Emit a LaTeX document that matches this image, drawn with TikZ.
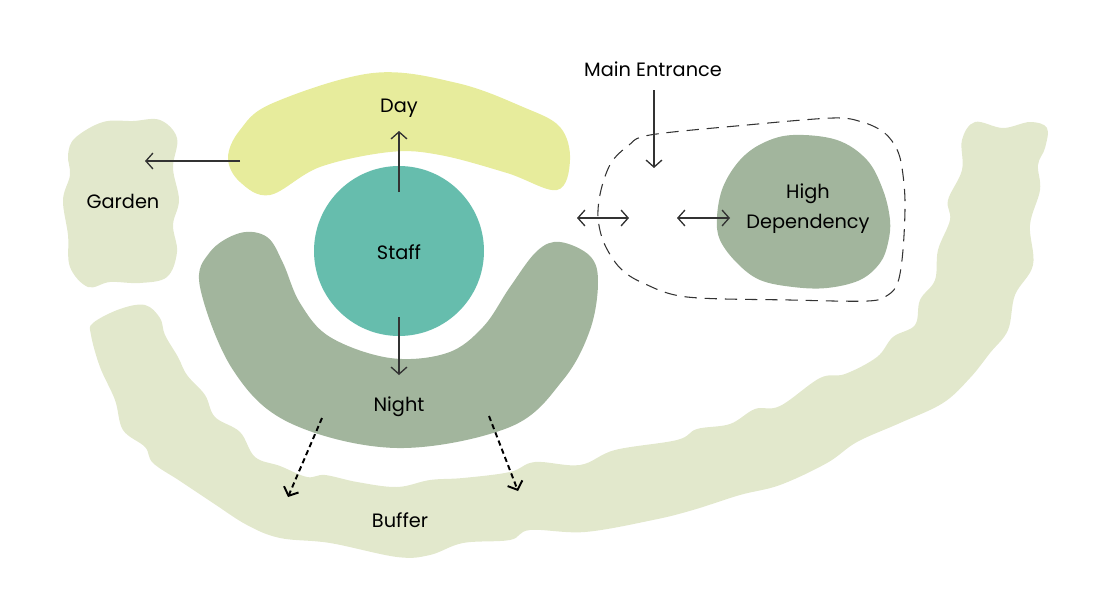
\documentclass[tikz,border=0pt]{standalone}
\usepackage{fontspec}
\setmainfont{Poppins}
\usetikzlibrary{arrows.meta}
\definecolor{dayc}{HTML}{E7EC9C}
\definecolor{staffc}{HTML}{66BDAD}
\definecolor{sage}{HTML}{A2B59D}
\definecolor{bufc}{HTML}{E2E8CC}
\definecolor{ink}{HTML}{333333}
\tikzset{
  lbl/.style={font=\fontsize{11}{17}\selectfont, text=black, inner sep=0pt, align=center},
  conn/.style={draw=ink, line width=0.75pt, -{Straight Barb[length=4pt,width=9pt,line width=0.75pt]}},
  dconn/.style={conn, {Straight Barb[length=4pt,width=9pt,line width=0.75pt]}-{Straight Barb[length=4pt,width=9pt,line width=0.75pt]}},
  dashconn/.style={draw=black, line width=1.1pt, dash pattern=on 3pt off 2pt, -{Straight Barb[length=4pt,width=9pt,line width=1.1pt]}},
  zone/.style={draw=ink, line width=0.6pt, dash pattern=on 7pt off 4.5pt},
}
\begin{document}
\begin{tikzpicture}[x=0.02cm, y=-0.02cm]
\useasboundingbox (0,0) rectangle (1100,612);
% Garden
\fill[bufc] plot[smooth cycle, tension=0.6] coordinates {(75,138) (103,122) (133,121) (160,120) (177,138) (173,168) (179,200) (173,225) (177,252) (167,277) (140,283) (110,282) (88,287) (70,267) (68,235) (63,200) (70,175) (68,155)};
% Buffer
\fill[bufc] plot[smooth cycle, tension=0.6] coordinates {(93,323) (120,309) (145,305) (160,318) (165,335) (178,357) (187,375) (205,395) (215,417) (240,432) (255,457) (280,466) (307,477) (325,475) (357,482) (397,487) (430,480) (463,478) (510,472) (535,462) (580,465) (615,450) (677,440) (697,429) (730,424) (755,409) (780,406) (820,378) (845,374) (877,357) (893,337) (915,325) (920,300) (935,280) (938,250) (950,220) (948,200) (962,170) (962,140) (975,122) (1003,128) (1030,122) (1047,128) (1045,148) (1038,165) (1040,190) (1030,225) (1033,265) (1015,295) (1008,330) (990,353) (970,378) (943,403) (900,423) (857,442) (827,463) (780,485) (740,495) (693,510) (653,520) (585,532) (530,530) (510,540) (463,543) (430,555) (397,557) (330,543) (280,538) (247,525) (213,503) (180,481) (153,463) (145,447) (123,430) (115,400) (100,367) (91,335)};
% Day
\fill[dayc] plot[smooth cycle, tension=0.6] coordinates {(240,130) (273,103) (373,73) (457,83) (523,107) (560,127) (570,160) (557,190) (507,173) (440,155) (390,152) (320,167) (270,195) (240,182) (228,158)};
% Night
\fill[sage] plot[smooth cycle, tension=0.6] coordinates {(210,252) (240,233) (267,237) (283,263) (300,303) (330,337) (390,358) (447,353) (483,327) (510,287) (537,251) (560,242) (590,256) (598,282) (590,330) (563,380) (510,427) (397,448) (290,423) (233,370) (200,287)};
% Staff
\fill[staffc] (399,251) circle [radius=85];
% High dependency
\fill[sage] plot[smooth cycle, tension=0.6] coordinates {(793,135) (837,140) (867,160) (883,190) (890,220) (888,243) (880,263) (860,280) (827,288) (793,287) (760,280) (737,263) (720,240) (717,217) (723,187) (740,160) (763,143)};
% Zone outline
\draw[zone] plot[smooth cycle, tension=0.55] coordinates {(650,135) (747,125) (833,118) (862,122) (882,131) (894,144) (901,162) (905,200) (903,250) (898,282) (888,295) (868,301) (790,300) (687,297) (643,283) (620,268) (604,243) (598,217) (601,190) (611,163) (628,146)};

% Labels
\node[lbl] (day) at (399,108) {Day};
\node[lbl] (staff) at (399,252) {Staff};
\node[lbl] (night) at (399,407) {Night};
\node[lbl] (garden) at (123,201) {Garden};
\node[lbl] (hd) at (808,209) {High\\Dependency};
\node[lbl] (buffer) at (400,520) {Buffer};
\node[lbl] (main) at (653,69) {Main Entrance};

% Connector end points
\coordinate (gS) at (240,161);
\coordinate (gE) at (145,161);
\coordinate (dS) at (399,192);
\coordinate (dE) at (399,131);
\coordinate (nS) at (399,317);
\coordinate (nE) at (399,375);
\coordinate (mS) at (654,90);
\coordinate (mE) at (654,168);
\coordinate (a1) at (577,218);
\coordinate (a2) at (629,218);
\coordinate (b1) at (677,218);
\coordinate (b2) at (730,218);
\coordinate (l1) at (322,418);
\coordinate (l2) at (288,497);
\coordinate (r1) at (489,416);
\coordinate (r2) at (518,491);

\draw[conn] (gS) -- (gE);
\draw[conn] (dS) -- (dE);
\draw[conn] (nS) -- (nE);
\draw[conn] (mS) -- (mE);
\draw[dconn] (a1) -- (a2);
\draw[dconn] (b1) -- (b2);
\draw[dashconn] (l1) -- (l2);
\draw[dashconn] (r1) -- (r2);
\end{tikzpicture}
\end{document}
